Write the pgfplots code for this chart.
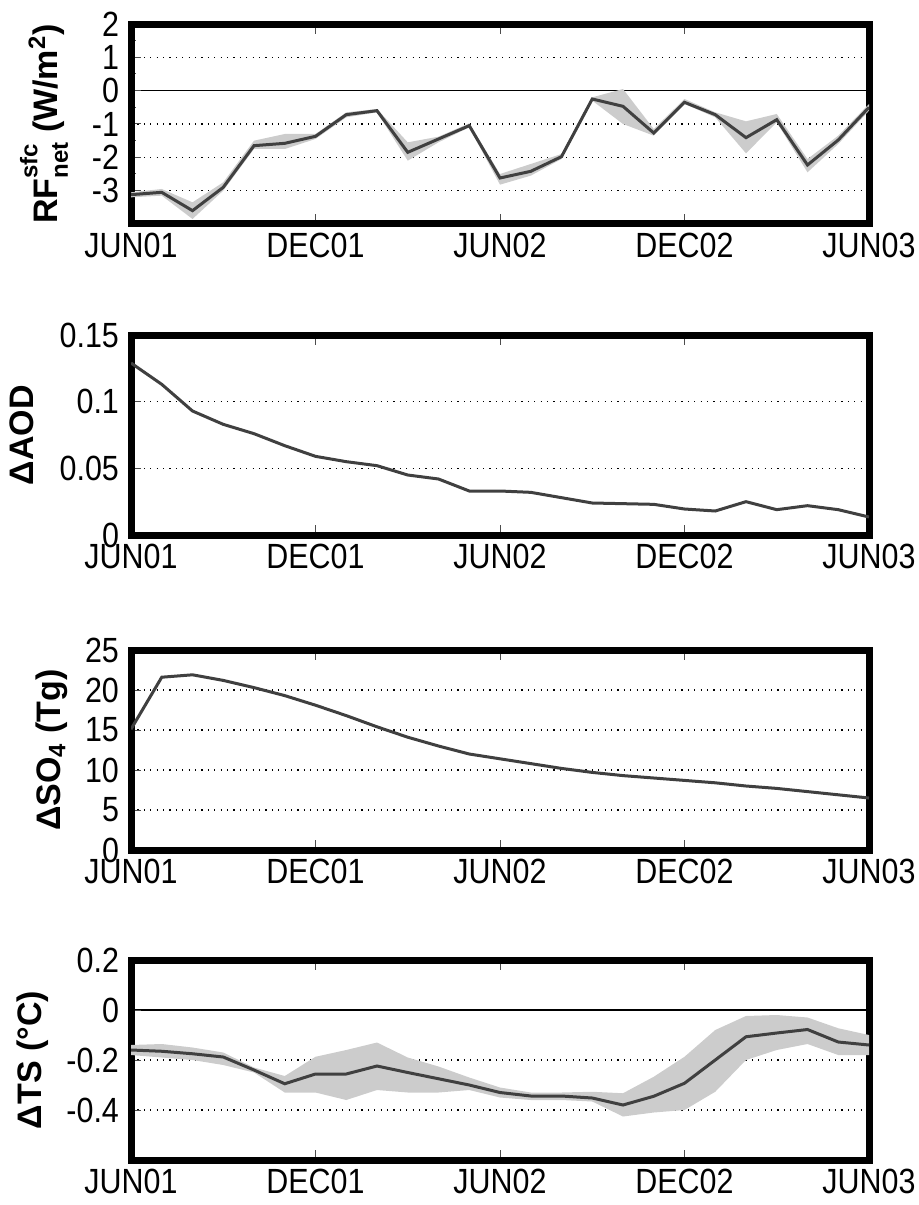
\documentclass[border=0pt]{standalone}
\usepackage{fontspec}
\setmainfont{Liberation Sans}[FakeStretch=0.87]
\newfontfamily\labelfont{Liberation Sans}
\usepackage{pgfplots}
\usepackage{pgfplotstable}
\pgfplotsset{compat=1.18}
\usepgfplotslibrary{fillbetween}

\definecolor{linegray}{gray}{0.25}
\definecolor{bandgray}{gray}{0.8}

% month index (0 = JUN01), central value, lower and upper envelope
\pgfplotstableread{
m  v      lo     hi
0  -3.12  -3.20  -3.05
1  -3.05  -3.15  -2.95
2  -3.60  -3.85  -3.35
3  -2.90  -3.00  -2.75
4  -1.65  -1.75  -1.50
5  -1.58  -1.75  -1.30
6  -1.37  -1.45  -1.30
7  -0.72  -0.80  -0.65
8  -0.60  -0.65  -0.55
9  -1.85  -2.10  -1.55
10 -1.45  -1.55  -1.38
11 -1.05  -1.10  -0.98
12 -2.62  -2.82  -2.50
13 -2.42  -2.55  -2.20
14 -1.98  -2.05  -1.90
15 -0.25  -0.30  -0.20
16 -0.47  -1.00   0.05
17 -1.27  -1.35  -1.15
18 -0.35  -0.40  -0.25
19 -0.72  -0.80  -0.65
20 -1.41  -1.88  -0.92
21 -0.87  -0.95  -0.70
22 -2.23  -2.45  -2.05
23 -1.48  -1.60  -1.35
24 -0.50  -0.60  -0.40
}\rf

\pgfplotstableread{
m  v
0  0.129
1  0.113
2  0.093
3  0.083
4  0.076
5  0.067
6  0.059
7  0.055
8  0.052
9  0.045
10 0.042
11 0.033
12 0.033
13 0.032
14 0.028
15 0.024
16 0.0235
17 0.023
18 0.0195
19 0.018
20 0.025
21 0.019
22 0.022
23 0.019
24 0.0135
}\aod

\pgfplotstableread{
m  v
0  15.1
1  21.6
2  21.9
3  21.2
4  20.3
5  19.3
6  18.1
7  16.8
8  15.4
9  14.1
10 13.0
11 12.0
12 11.4
13 10.8
14 10.2
15 9.7
16 9.3
17 9.0
18 8.7
19 8.4
20 8.0
21 7.7
22 7.3
23 6.9
24 6.5
}\sulf

\pgfplotstableread{
m  v       lo      hi
0  -0.160  -0.180  -0.140
1  -0.165  -0.190  -0.136
2  -0.175  -0.200  -0.150
3  -0.188  -0.220  -0.170
4  -0.240  -0.250  -0.230
5  -0.295  -0.330  -0.264
6  -0.256  -0.330  -0.187
7  -0.256  -0.360  -0.160
8  -0.224  -0.320  -0.130
9  -0.250  -0.330  -0.190
10 -0.275  -0.330  -0.226
11 -0.300  -0.320  -0.270
12 -0.330  -0.350  -0.310
13 -0.344  -0.360  -0.330
14 -0.344  -0.360  -0.330
15 -0.352  -0.366  -0.327
16 -0.380  -0.426  -0.333
17 -0.345  -0.410  -0.267
18 -0.293  -0.400  -0.187
19 -0.200  -0.327  -0.080
20 -0.107  -0.200  -0.024
21 -0.092  -0.160  -0.020
22 -0.078  -0.136  -0.030
23 -0.128  -0.180  -0.073
24 -0.140  -0.180  -0.100
}\ts

\pgfplotsset{
  panel/.style={
    scale only axis, width=369pt, height=100pt,
    anchor=north west,
    xmin=0, xmax=24,
    xtick={0,6,12,18,24},
    xticklabels={JUN01,DEC01,JUN02,DEC02,JUN03},
    xtick pos=both, ytick pos=left,
    tick align=inside,
    major tick length=5pt, minor tick length=2.5pt,
    every tick/.style={black!70, line width=0.5pt},
    axis line style={line width=3.5pt, line join=miter},
    ymajorgrids,
    major grid style={black, line width=0.6pt, dash pattern=on 0.6pt off 2.6pt},
    tick label style={font=\fontsize{17.5}{21}\selectfont},
    xticklabel style={yshift=-1pt},
    yticklabel style={xshift=-2.5pt},
    ylabel style={font=\labelfont\bfseries\fontsize{17}{20}\selectfont},
  },
  zeroline/.style={
    extra y ticks={0}, extra y tick labels={},
    extra y tick style={grid=major,
      major grid style={draw=black, solid, line width=0.8pt}},
  },
  midline/.style={linegray, line width=1.5pt},
}

\begin{document}
\begin{tikzpicture}

% surface net radiative forcing
\begin{axis}[panel, zeroline, at={(65.5pt,-12pt)},
  ymin=-4, ymax=2,
  ytick={-3,-2,-1,0,1,2}, yticklabels={-3,-2,-1,0,1,2},
  minor y tick num=1,
  ylabel style={yshift=5pt},
  ylabel={RF\rlap{\raisebox{0.6em}{\fontsize{12}{12}\selectfont sfc}}\raisebox{-0.3em}{\fontsize{12}{12}\selectfont net} (W/m\textsuperscript{2})}]
\addplot[name path=hi, draw=none, forget plot] table[x=m, y=hi] {\rf};
\addplot[name path=lo, draw=none, forget plot] table[x=m, y=lo] {\rf};
\addplot[bandgray, draw=none] fill between[of=hi and lo];
\addplot[midline] table[x=m, y=v] {\rf};
\end{axis}

% aerosol optical depth
\begin{axis}[panel, at={(65.5pt,-167.5pt)},
  ymin=0, ymax=0.15,
  ytick={0,0.05,0.1,0.15}, yticklabels={0,0.05,0.1,0.15},
  ylabel style={yshift=6pt},
  ylabel={ΔAOD}]
\addplot[midline] table[x=m, y=v] {\aod};
\end{axis}

% sulfate burden
\begin{axis}[panel, at={(65.5pt,-325pt)},
  ymin=0, ymax=25,
  ytick={0,5,10,15,20,25}, yticklabels={0,5,10,15,20,25},
  ylabel style={yshift=2pt},
  ylabel={ΔSO\textsubscript{4} (Tg)}]
\addplot[midline] table[x=m, y=v] {\sulf};
\end{axis}

% surface temperature
\begin{axis}[panel, zeroline, at={(65.5pt,-480pt)},
  ymin=-0.6, ymax=0.2,
  ytick={-0.4,-0.2,0,0.2}, yticklabels={-0.4,-0.2,0,0.2},
  ylabel style={yshift=2pt},
  ylabel={ΔTS (°C)}]
\addplot[name path=hi, draw=none, forget plot] table[x=m, y=hi] {\ts};
\addplot[name path=lo, draw=none, forget plot] table[x=m, y=lo] {\ts};
\addplot[bandgray, draw=none] fill between[of=hi and lo];
\addplot[midline] table[x=m, y=v] {\ts};
\end{axis}

\pgfresetboundingbox
\useasboundingbox (0pt,0pt) rectangle (459pt,-602.5pt);
\end{tikzpicture}
\end{document}
